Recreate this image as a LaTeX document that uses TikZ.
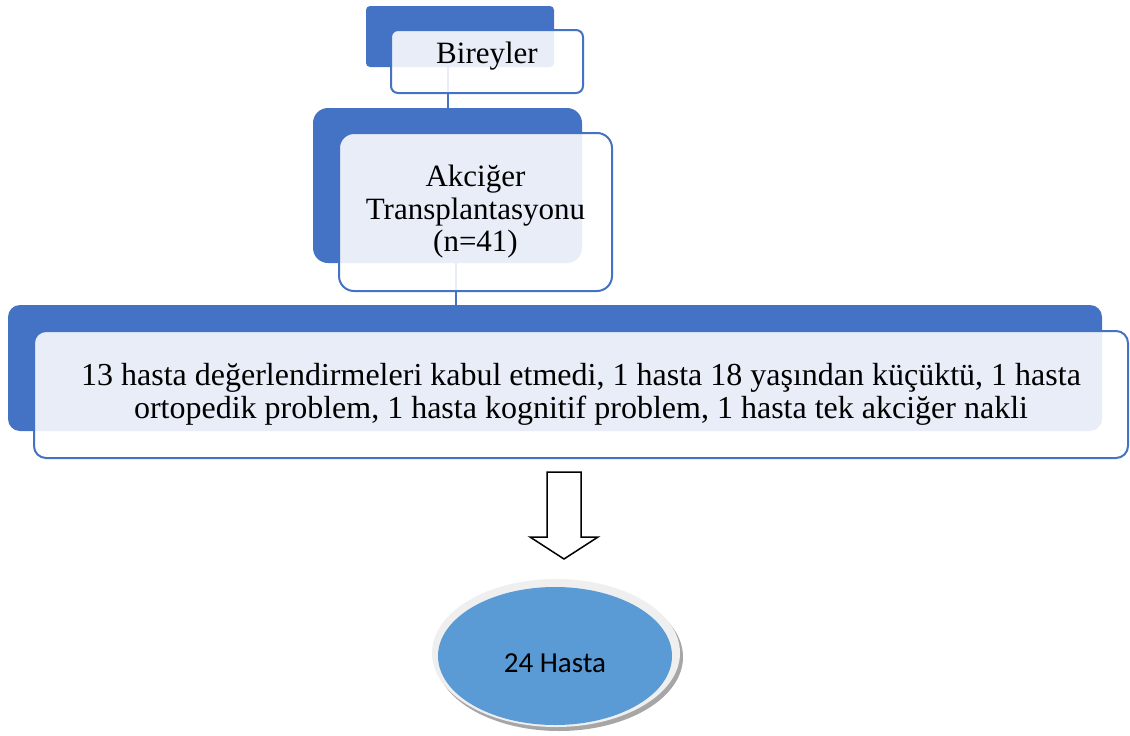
\documentclass[tikz,border=0pt]{standalone}
\usepackage{fontspec}
\setmainfont{Liberation Serif}
\newfontfamily\hastafont{Carlito}
\usepackage{tikz}
\usetikzlibrary{positioning,shapes.geometric}
\definecolor{backblue}{HTML}{4472C4}
\definecolor{ovalblue}{HTML}{5B9BD5}
\definecolor{rimgray}{HTML}{EFEFEF}
\definecolor{shadegray}{HTML}{A6A6A6}

\tikzset{
  backbox/.style={fill=backblue,inner sep=0pt,outer sep=0pt},
  frontbox/.style={draw=backblue,line width=2pt,fill=white,fill opacity=0.88,
    text opacity=1,inner sep=0pt,outer sep=0pt,align=center},
  link/.style={draw=backblue,line width=2pt},
  blockarrow/.style={draw=black,fill=white,line width=1.5pt,line join=miter},
  oval/.style={ellipse,fill=ovalblue,inner sep=0pt,minimum width=234pt,minimum height=138pt}
}

\begin{document}
\begin{tikzpicture}[x=1pt,y=-1pt]
  \useasboundingbox (0,0) rectangle (1130,736);
  % back boxes
  \node[backbox,rounded corners=4pt,minimum width=188pt,minimum height=61pt] (back1) at (460,36.5) {};
  \node[backbox,rounded corners=15pt,minimum width=269pt,minimum height=155pt] (back2) at (447.5,185.5) {};
  \node[backbox,rounded corners=12pt,minimum width=1094pt,minimum height=126pt] (back3) at (555,368) {};
  % connectors
  \coordinate (c1) at (back2.north |- back1.south);
  \coordinate (c2) at (456,263);
  \path[link]
  (c1) -- (back2.north)
  (c2) -- (c2 |- back3.north)
  ;
  % front boxes
  \node[frontbox,rounded corners=7pt,minimum width=192pt,minimum height=63pt,
    font=\fontsize{31}{32}\selectfont] (front1) [below right=24pt and 25pt of back1.north west] {};
  \node[font=\fontsize{31}{32}\selectfont,inner sep=0pt] (name1) at (487,56) {Bireyler};
  \node[frontbox,rounded corners=15pt,minimum width=273pt,minimum height=158pt,
    font=\fontsize{31}{32.5}\selectfont] (front2) [below right=25pt and 26pt of back2.north west]
    {Akciğer\\Transplantasyonu\\(n=41)};
  \node[frontbox,rounded corners=12pt,minimum width=1094pt,minimum height=127pt,
    font=\fontsize{32}{33}\selectfont] (front3) [below right=26pt and 26pt of back3.north west]
    {13 hasta değerlendirmeleri kabul etmedi, 1 hasta 18 yaşından küçüktü, 1 hasta\\
     ortopedik problem, 1 hasta kognitif problem, 1 hasta tek akciğer nakli};
  % block arrow
  \coordinate (arrtop) at (564,472);
  \draw[blockarrow] (arrtop) ++(-17,0) -- ++(34,0) -- ++(0,65) -- ++(17,0)
    -- ++(-34,22) -- ++(-34,-22) -- ++(17,0) -- cycle;
  % result oval
  \fill[shadegray] (559,657) ellipse [x radius=124,y radius=74];
  \fill[rimgray] (556,653) ellipse [x radius=124,y radius=74];
  \node[oval] (oval24) at (555,656) {};
  \path (oval24.center) ++(0,7) node[font=\hastafont\fontsize{29}{30}\selectfont,inner sep=0pt] (label24) {24 Hasta};
\end{tikzpicture}
\end{document}
